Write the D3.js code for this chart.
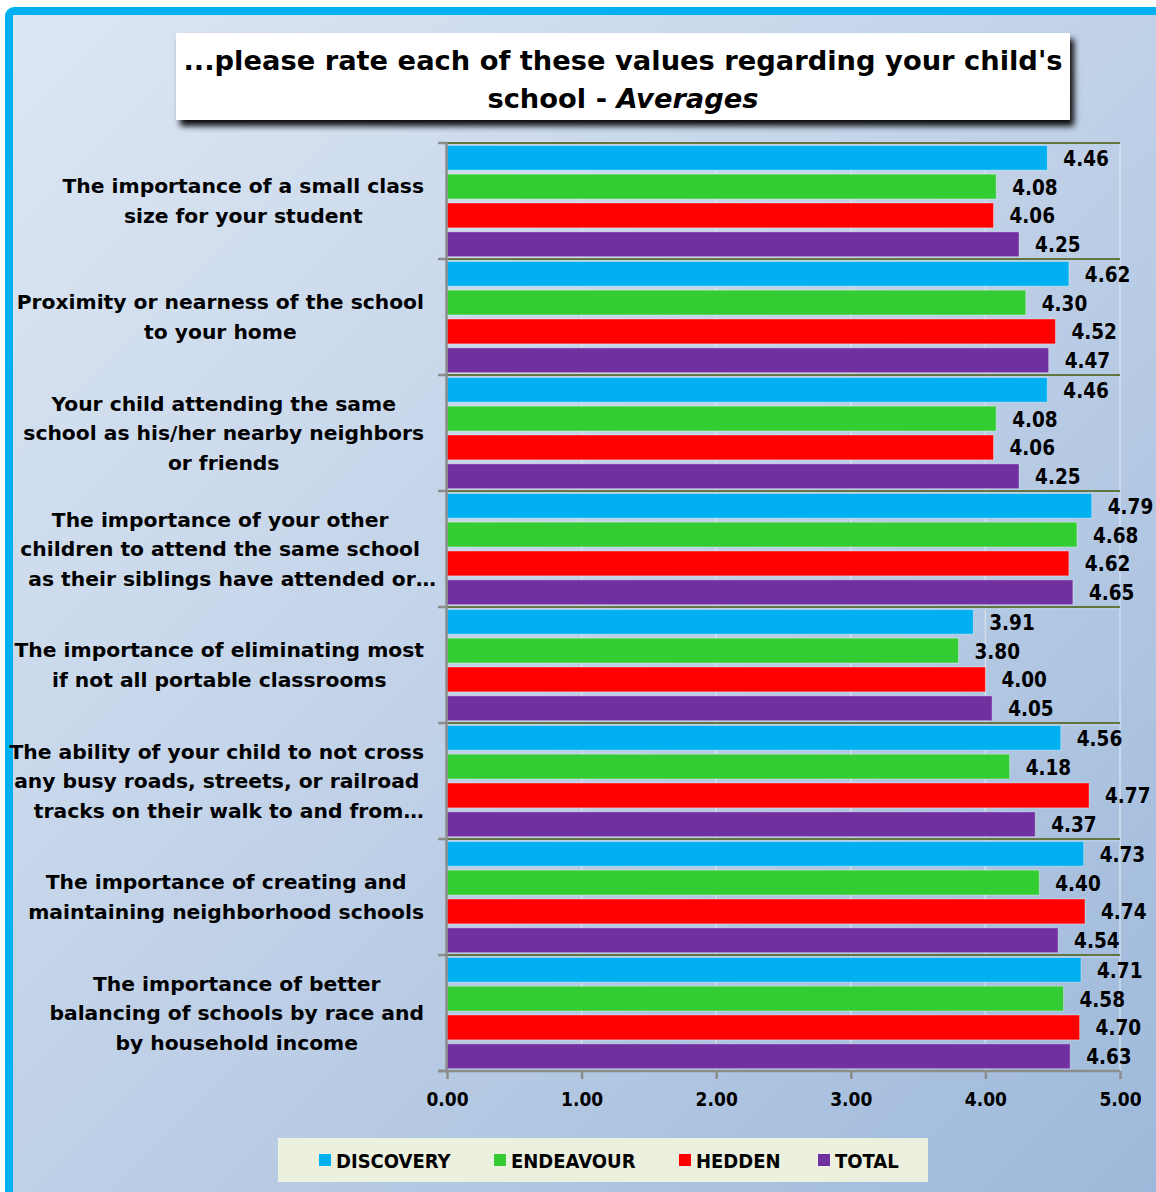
<!DOCTYPE html>
<html>
<head>
<meta charset="utf-8">
<script src="https://cdn.jsdelivr.net/npm/d3@7"></script>
<style>
  html, body { margin: 0; padding: 0; background: #ffffff; }
  svg { display: block; }
  text { font-family: "DejaVu Sans", sans-serif; font-weight: 700; fill: #000; }
  .cond { font-family: "DejaVu Sans Condensed", "DejaVu Sans", sans-serif; font-stretch: condensed; }
</style>
</head>
<body>
<svg id="chart" width="1156" height="1192"></svg>
<script>
// ---------------- DATA ----------------
const categories = [
  ["The importance of a small class", "size for your student"],
  ["Proximity or nearness of the school", "to your home"],
  ["Your child attending the same", "school as his/her nearby neighbors", "or friends"],
  ["The importance of your other", "children to attend the same school", "as their siblings have attended or…"],
  ["The importance of eliminating most", "if not all portable classrooms"],
  ["The ability of your child to not cross", "any busy roads, streets, or railroad", "tracks on their walk to and from…"],
  ["The importance of creating and", "maintaining neighborhood schools"],
  ["The importance of better", "balancing of schools by race and", "by household income"]
];
const seriesNames = ["DISCOVERY", "ENDEAVOUR", "HEDDEN", "TOTAL"];
const discovery = [4.46, 4.62, 4.46, 4.79, 3.91, 4.56, 4.73, 4.71];
const endeavour = [4.08, 4.30, 4.08, 4.68, 3.80, 4.18, 4.40, 4.58];
const hedden    = [4.06, 4.52, 4.06, 4.62, 4.00, 4.77, 4.74, 4.70];
const total     = [4.25, 4.47, 4.25, 4.65, 4.05, 4.37, 4.54, 4.63];
const xTicks = [0, 1, 2, 3, 4, 5];
const titleLine1 = "...please rate each of these values regarding your child's";
const titleLine2a = "school - ";
const titleLine2b = "Averages";

// ---------------- STYLE ----------------
const colors = ["#00b0f0", "#33cc33", "#ff0000", "#7030a0"];
const series = [discovery, endeavour, hedden, total];
const plot = { left: 447, right: 1120, top: 143, bottom: 1071 };

const svg = d3.select("#chart");
const defs = svg.append("defs");

const bg = defs.append("linearGradient").attr("id", "bg")
  .attr("x1", "0").attr("y1", "0").attr("x2", "1").attr("y2", "1");
bg.append("stop").attr("offset", "0").attr("stop-color", "#dde7f3");
bg.append("stop").attr("offset", "0.5").attr("stop-color", "#bccee6");
bg.append("stop").attr("offset", "1").attr("stop-color", "#95b3d7");

const sh = defs.append("filter").attr("id", "shadow")
  .attr("x", "-5%").attr("y", "-20%").attr("width", "115%").attr("height", "150%");
sh.append("feDropShadow").attr("dx", 4).attr("dy", 6).attr("stdDeviation", 3)
  .attr("flood-color", "#000").attr("flood-opacity", 0.95);

// background panel with cyan border
svg.append("rect").attr("x", 9).attr("y", 11).attr("width", 1300).attr("height", 1300)
  .attr("rx", 5).attr("fill", "url(#bg)").attr("stroke", "#00b0f0").attr("stroke-width", 8);

// title box
svg.append("rect").attr("x", 176).attr("y", 33).attr("width", 894).attr("height", 87)
  .attr("fill", "#fff").attr("filter", "url(#shadow)");
const tcx = 623;
svg.append("text").attr("x", tcx).attr("y", 70).attr("text-anchor", "middle")
  .attr("font-size", 27.3).text(titleLine1);
const t2 = svg.append("text").attr("x", tcx).attr("y", 108).attr("text-anchor", "middle")
  .attr("font-size", 27.3);
t2.append("tspan").text(titleLine2a);
t2.append("tspan").attr("font-style", "italic").text(titleLine2b);

// scales
const x = d3.scaleLinear().domain([0, 5]).range([plot.left, plot.right]);
const y = d3.scaleBand().domain(d3.range(categories.length)).range([plot.top, plot.bottom]).padding(0);
const ySub = d3.scaleBand().domain(d3.range(seriesNames.length)).range([0, y.bandwidth()])
  .paddingInner(0.14).paddingOuter(0.08);

// vertical gridlines
svg.append("g").selectAll("line").data(xTicks.slice(1)).join("line")
  .attr("x1", d => x(d)).attr("x2", d => x(d))
  .attr("y1", plot.top).attr("y2", plot.bottom)
  .attr("stroke", "#dbe4f0").attr("stroke-width", 1.5).attr("opacity", 0.8);

// bars
const groups = svg.append("g").selectAll("g").data(categories).join("g")
  .attr("transform", (d, i) => `translate(0,${y(i)})`);
groups.each(function (c, i) {
  const g = d3.select(this);
  series.forEach((s, j) => {
    g.append("rect")
      .attr("x", x(0)).attr("y", ySub(j))
      .attr("width", x(s[i]) - x(0)).attr("height", ySub.bandwidth())
      .attr("fill", colors[j]).attr("stroke", "rgba(255,255,255,0.35)").attr("stroke-width", 1);
    g.append("text").attr("class", "cond")
      .attr("x", x(s[i]) + 16).attr("y", ySub(j) + ySub.bandwidth() / 2 + 1)
      .attr("dominant-baseline", "central").attr("font-size", 20.5)
      .text(s[i].toFixed(2));
  });
});

// horizontal category boundary lines
const bounds = d3.range(categories.length + 1).map(i => i < categories.length ? y(i) : plot.bottom);
svg.append("g").selectAll("line").data(bounds.slice(0, -1)).join("line")
  .attr("x1", plot.left).attr("x2", plot.right)
  .attr("y1", d => d).attr("y2", d => d)
  .attr("stroke", "#637640").attr("stroke-width", 2);
svg.append("g").selectAll("line").data(bounds.slice(0, -1)).join("line")
  .attr("x1", plot.left).attr("x2", plot.right)
  .attr("y1", d => d + 2).attr("y2", d => d + 2)
  .attr("stroke", "#b9cfe8").attr("stroke-width", 1.5);

// left axis
const axisColor = "#8c8c8c";
svg.append("line").attr("x1", plot.left - 0.5).attr("x2", plot.left - 0.5)
  .attr("y1", plot.top).attr("y2", plot.bottom).attr("stroke", axisColor).attr("stroke-width", 2.5);
svg.append("g").selectAll("line").data(bounds).join("line")
  .attr("x1", plot.left - 9).attr("x2", plot.left)
  .attr("y1", d => d).attr("y2", d => d)
  .attr("stroke", axisColor).attr("stroke-width", 2.5);

// bottom axis
const xAxis = svg.append("g").attr("transform", `translate(0,${plot.bottom})`)
  .call(d3.axisBottom(x).tickValues(xTicks).tickFormat(d3.format(".2f")).tickSize(8).tickPadding(14));
xAxis.attr("font-family", null).attr("font-size", null);
xAxis.select(".domain").attr("stroke", axisColor).attr("stroke-width", 2.5)
  .attr("d", `M${plot.left - 9},0H${plot.right}`);
xAxis.selectAll(".tick line").attr("stroke", axisColor).attr("stroke-width", 2.5);
xAxis.selectAll(".tick text").attr("class", "cond").attr("font-size", 19).attr("fill", "#000");

// category labels
const labelRight = 424, lineH = 29.5;
const lab = svg.append("g").attr("font-size", 20.3);
categories.forEach((lines, i) => {
  const cy = y(i) + y.bandwidth() / 2;
  const texts = lines.map((ln, k) => lab.append("text")
    .attr("text-anchor", "middle")
    .attr("y", cy + (k - (lines.length - 1) / 2) * lineH)
    .attr("dominant-baseline", "central")
    .text(ln));
  const maxW = d3.max(texts, t => t.node().getComputedTextLength());
  const cx = labelRight - maxW / 2;
  texts.forEach((t, k) => {
    const ell = lines[k].endsWith("…") ? 12 : 0;
    t.attr("x", cx + ell);
  });
});

// legend
svg.append("rect").attr("x", 278).attr("y", 1138).attr("width", 650).attr("height", 44)
  .attr("fill", "#ebf0df");
const legX = [319, 494, 679, 818];
const leg = svg.append("g");
seriesNames.forEach((n, j) => {
  leg.append("rect").attr("x", legX[j]).attr("y", 1154).attr("width", 12).attr("height", 12)
    .attr("fill", colors[j]);
  leg.append("text").attr("class", "cond").attr("x", legX[j] + 17).attr("y", 1161)
    .attr("dominant-baseline", "central").attr("font-size", 20).text(n);
});
</script>
</body>
</html>
